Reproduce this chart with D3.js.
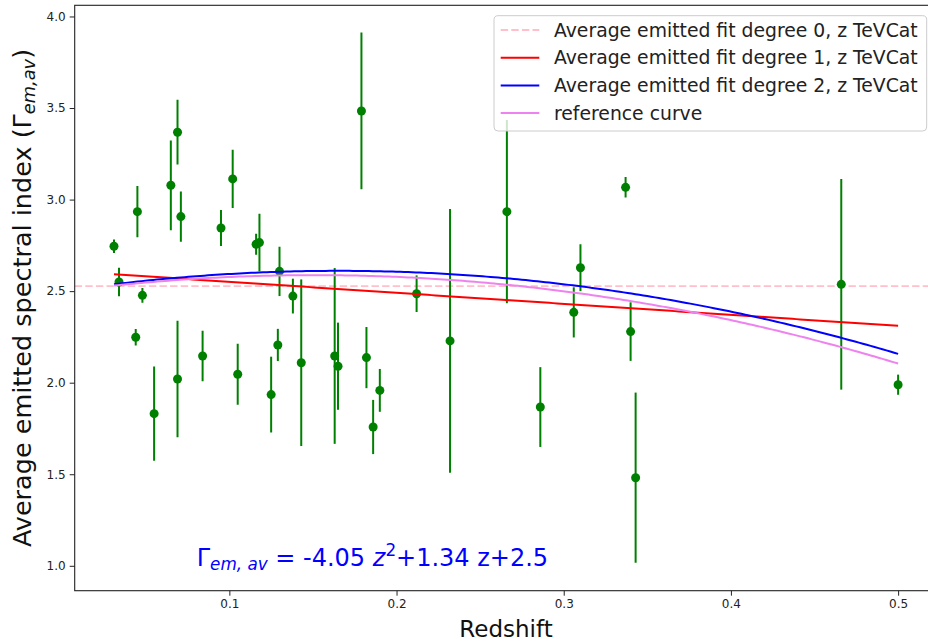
<!DOCTYPE html>
<html>
<head>
<meta charset="utf-8">
<script src="https://cdn.jsdelivr.net/npm/d3@7"></script>
<style>
  html, body { margin: 0; padding: 0; background: #fff; }
  svg { display: block; font-family: "DejaVu Sans", sans-serif; }
</style>
</head>
<body>
<script>
// Source redshifts (TeVCat) and their average emitted spectral index with 1-sigma errors
const redshift = [0.031, 0.034, 0.044, 0.045, 0.048, 0.055, 0.065, 0.069, 0.069, 0.071,
                  0.084, 0.095, 0.102, 0.105, 0.116, 0.118, 0.125, 0.129, 0.130, 0.138,
                  0.143, 0.163, 0.165, 0.179, 0.182, 0.186, 0.190, 0.212, 0.232, 0.266,
                  0.286, 0.306, 0.310, 0.337, 0.340, 0.343, 0.466, 0.500];
const gammaAv  = [2.745, 2.550, 2.248, 2.934, 2.477, 1.831, 3.078, 3.368, 2.020, 2.907,
                  2.146, 2.845, 3.113, 2.046, 2.756, 2.765, 1.935, 2.206, 2.608, 2.473,
                  2.109, 2.146, 2.090, 3.484, 2.137, 1.758, 1.958, 2.486, 2.228, 2.934,
                  1.867, 2.384, 2.628, 3.067, 2.279, 1.481, 2.537, 1.989];
const gammaErr = [0.037, 0.078, 0.045, 0.140, 0.040, 0.257, 0.245, 0.177, 0.318, 0.137,
                  0.138, 0.098, 0.159, 0.167, 0.057, 0.157, 0.207, 0.088, 0.135, 0.095,
                  0.455, 0.480, 0.238, 0.428, 0.167, 0.148, 0.117, 0.100, 0.720, 0.500,
                  0.218, 0.137, 0.128, 0.056, 0.160, 0.465, 0.575, 0.055];

// Polynomial coefficients, lowest order first: c0 + c1 z + c2 z^2
const fitDeg0 = [2.527];
const fitDeg1 = [2.611, -0.601];
const fitDeg2 = [2.5, 1.34, -4.05];
const refCurve = [2.497, 1.197, -3.964];

const xTicks = [0.1, 0.2, 0.3, 0.4, 0.5];
const yTicks = [1.0, 1.5, 2.0, 2.5, 3.0, 3.5, 4.0];

const legendLabels = [
  "Average emitted fit degree 0, z TeVCat",
  "Average emitted fit degree 1, z TeVCat",
  "Average emitted fit degree 2, z TeVCat",
  "reference curve"
];

const W = 928, H = 644;
const plot = { left: 74.7, right: 937.4, top: 5.3, bottom: 590.7 };

const x = d3.scaleLinear().domain([0.0075, 0.5235]).range([plot.left, plot.right]);
const y = d3.scaleLinear().domain([0.864, 4.061]).range([plot.bottom, plot.top]);

const svg = d3.select("body").append("svg").attr("width", W).attr("height", H);

svg.append("defs").append("clipPath").attr("id", "plotClip")
  .append("rect")
  .attr("x", plot.left).attr("y", plot.top)
  .attr("width", plot.right - plot.left).attr("height", plot.bottom - plot.top);

const area = svg.append("g").attr("clip-path", "url(#plotClip)");

const poly = c => z => c.reduce((s, ci, i) => s + ci * Math.pow(z, i), 0);

// Degree-0 fit spans the whole axes width
area.append("line")
  .attr("x1", plot.left).attr("x2", plot.right)
  .attr("y1", y(fitDeg0[0])).attr("y2", y(fitDeg0[0]))
  .attr("stroke", "pink").attr("stroke-width", 1.8)
  .attr("stroke-dasharray", "7.4,3.2");

// Error bars and points
const pts = redshift.map((z, i) => ({ z, g: gammaAv[i], e: gammaErr[i] }));
area.append("g").selectAll("line").data(pts).join("line")
  .attr("x1", d => x(d.z)).attr("x2", d => x(d.z))
  .attr("y1", d => y(d.g - d.e)).attr("y2", d => y(d.g + d.e))
  .attr("stroke", "green").attr("stroke-width", 2);
area.append("g").selectAll("circle").data(pts).join("circle")
  .attr("cx", d => x(d.z)).attr("cy", d => y(d.g)).attr("r", 4.5)
  .attr("fill", "green");

// Fitted curves over the sampled redshift range
const zMin = d3.min(redshift), zMax = d3.max(redshift);
const zGrid = d3.range(0, 201).map(i => zMin + (zMax - zMin) * i / 200);
const line = d3.line().x(d => x(d[0])).y(d => y(d[1]));
[[fitDeg1, "red"], [fitDeg2, "blue"], [refCurve, "violet"]].forEach(([c, col]) => {
  const f = poly(c);
  area.append("path")
    .attr("d", line(zGrid.map(z => [z, f(z)])))
    .attr("fill", "none").attr("stroke", col).attr("stroke-width", 2);
});

// Axes
const xAxis = svg.append("g").attr("transform", `translate(0,${plot.bottom})`)
  .call(d3.axisBottom(x).tickValues(xTicks).tickFormat(d3.format(".1f")).tickSizeOuter(0).tickSize(5).tickPadding(4));
const yAxis = svg.append("g").attr("transform", `translate(${plot.left},0)`)
  .call(d3.axisLeft(y).tickValues(yTicks).tickFormat(d3.format(".1f")).tickSizeOuter(0).tickSize(5).tickPadding(4));
[xAxis, yAxis].forEach(a => {
  a.select(".domain").remove();
  a.selectAll("text").attr("font-family", "DejaVu Sans").attr("font-size", 12).attr("fill", "#222");
  a.selectAll("line").attr("stroke", "#222").attr("stroke-width", 1);
});

// Frame
svg.append("rect")
  .attr("x", plot.left).attr("y", plot.top)
  .attr("width", plot.right - plot.left).attr("height", plot.bottom - plot.top)
  .attr("fill", "none").attr("stroke", "#222").attr("stroke-width", 1.1);

// Axis titles
svg.append("text")
  .attr("x", (plot.left + plot.right) / 2).attr("y", 636.5)
  .attr("text-anchor", "middle").attr("font-size", 23).attr("fill", "#111")
  .text("Redshift");

const yl = svg.append("text")
  .attr("transform", `translate(31,${(plot.top + plot.bottom) / 2}) rotate(-90)`)
  .attr("text-anchor", "middle").attr("font-size", 25.5).attr("fill", "#111");
yl.append("tspan").text("Average emitted spectral index (Γ");
yl.append("tspan").attr("font-style", "italic").attr("font-size", 17.8).attr("dy", 4).text("em,av");
yl.append("tspan").attr("dy", -4).text(")");

// Fit equation, built from the degree-2 coefficients
const eq = svg.append("text")
  .attr("x", x(0.0805)).attr("y", y(1.0))
  .attr("font-size", 24).attr("fill", "blue");
eq.append("tspan").text("Γ");
eq.append("tspan").attr("font-style", "italic").attr("font-size", 16.8).attr("dy", 4).text("em, av");
eq.append("tspan").attr("dy", -4).text(` = ${fitDeg2[2]} `);
eq.append("tspan").attr("font-style", "italic").text("z");
eq.append("tspan").attr("font-size", 16.8).attr("dy", -9.5).text("2");
eq.append("tspan").attr("dy", 9.5).text(`+${fitDeg2[1]} z+${fitDeg2[0]}`);

// Legend
const leg = svg.append("g");
leg.append("rect")
  .attr("x", 494).attr("y", 15.7).attr("width", 432.7).attr("height", 115.3)
  .attr("rx", 4).attr("fill", "white").attr("fill-opacity", 0.8)
  .attr("stroke", "#cccccc").attr("stroke-width", 1);
const legStyles = [
  { c: "pink", dash: "7.4,3.2" },
  { c: "red", dash: null },
  { c: "blue", dash: null },
  { c: "violet", dash: null }
];
legendLabels.forEach((lab, i) => {
  const cy = 30 + i * 27.7;
  leg.append("line")
    .attr("x1", 500.7).attr("x2", 539.3).attr("y1", cy).attr("y2", cy)
    .attr("stroke", legStyles[i].c).attr("stroke-width", 2)
    .attr("stroke-dasharray", legStyles[i].dash);
  leg.append("text")
    .attr("x", 554).attr("y", cy + 6.5)
    .attr("font-size", 18.8).attr("fill", "#222")
    .text(lab);
});
</script>
</body>
</html>
